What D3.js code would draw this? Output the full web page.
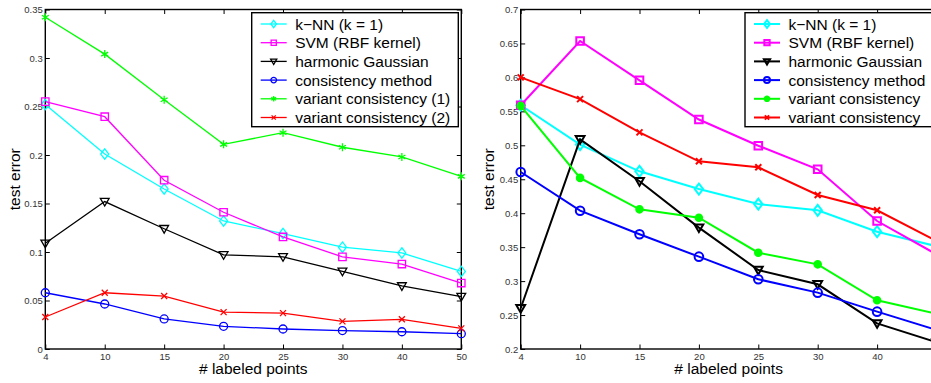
<!DOCTYPE html>
<html>
<head>
<meta charset="utf-8">
<script src="https://cdn.jsdelivr.net/npm/d3@7"></script>
<style>
  body { margin: 0; background: #fff; }
  svg { display: block; font-family: "Liberation Sans", Arial, sans-serif; }
</style>
</head>
<body>
<script>
var width = 931;
var height = 383;

// x categories (shared by both panels)
var labeledPoints = ["4", "10", "15", "20", "25", "30", "40", "50"];

// left panel
var leftTicks = [0, 0.05, 0.1, 0.15, 0.2, 0.25, 0.3, 0.35];
var leftNames = ["k\u2212NN (k = 1)", "SVM (RBF kernel)", "harmonic Gaussian",
                 "consistency method", "variant consistency (1)", "variant consistency (2)"];
var leftKnn      = [0.252, 0.201, 0.165, 0.132, 0.119, 0.105, 0.099, 0.080];
var leftSvm      = [0.255, 0.2395, 0.174, 0.141, 0.1155, 0.095, 0.0876, 0.068];
var leftHarmonic = [0.109, 0.152, 0.124, 0.097, 0.095, 0.080, 0.065, 0.054];
var leftConsist  = [0.058, 0.0464, 0.031, 0.0234, 0.0206, 0.019, 0.0178, 0.0158];
var leftVariant1 = [0.342, 0.304, 0.257, 0.211, 0.223, 0.208, 0.198, 0.178];
var leftVariant2 = [0.033, 0.058, 0.0546, 0.038, 0.037, 0.0285, 0.0306, 0.0213];

// right panel
var rightTicks = [0.2, 0.25, 0.3, 0.35, 0.4, 0.45, 0.5, 0.55, 0.6, 0.65, 0.7];
var rightNames = ["k\u2212NN (k = 1)", "SVM (RBF kernel)", "harmonic Gaussian",
                  "consistency method", "variant consistency", "variant consistency"];
var rightKnn      = [0.559, 0.501, 0.4617, 0.4356, 0.4135, 0.4043, 0.3728, 0.3514];
var rightSvm      = [0.559, 0.6536, 0.5957, 0.538, 0.4994, 0.4647, 0.3885, 0.3394];
var rightHarmonic = [0.26, 0.5088, 0.447, 0.3787, 0.3163, 0.2953, 0.2378, 0.21];
var rightConsist  = [0.4607, 0.4037, 0.369, 0.336, 0.3027, 0.283, 0.255, 0.228];
var rightVariant1 = [0.558, 0.452, 0.4057, 0.3934, 0.3418, 0.3247, 0.2717, 0.2518];
var rightVariant2 = [0.600, 0.568, 0.519, 0.4764, 0.4676, 0.4268, 0.4043, 0.359];

var colors  = ["#00ffff", "#ff00ff", "#000000", "#0000ff", "#00ff00", "#ff0000"];

var svg = d3.select("body").append("svg")
      .attr("width", width)
      .attr("height", height);

// marker shapes, centred on 0,0
function markerPath(kind, s) {
  switch (kind) {
    case "diamond": return "M0," + (-s * 1.3) + "L" + s + ",0L0," + (s * 1.3) + "L" + (-s) + ",0Z";
    case "square": return "M" + (-s) + "," + (-s) + "h" + (2 * s) + "v" + (2 * s) + "h" + (-2 * s) + "Z";
    case "tri": return "M" + (-s * 1.1) + "," + (-s * 0.8) + "L" + (s * 1.1) + "," + (-s * 0.8) + "L0," + (s * 1.1) + "Z";
    case "circle": return d3.arc()({innerRadius: 0, outerRadius: s, startAngle: 0, endAngle: 2 * Math.PI});
    case "star": return "M0," + (-s) + "V" + s + "M" + (-s * 0.87) + "," + (-s * 0.5) + "L" + (s * 0.87) + "," + (s * 0.5) +
                        "M" + (-s * 0.87) + "," + (s * 0.5) + "L" + (s * 0.87) + "," + (-s * 0.5);
    case "x": return "M" + (-s) + "," + (-s) + "L" + s + "," + s + "M" + (-s) + "," + s + "L" + s + "," + (-s);
    case "dot": return d3.arc()({innerRadius: 0, outerRadius: s, startAngle: 0, endAngle: 2 * Math.PI});
  }
}

function drawPanel(p) {
  var g = svg.append("g");

  var x = d3.scalePoint().domain(labeledPoints).range([p.left, p.right]).padding(0);
  var y = d3.scaleLinear().domain(p.domain).range([p.bottom, p.top]);

  // inward ticks on all four sides
  var tl = 4.5;
  g.append("g").attr("transform", "translate(0," + p.bottom + ")")
    .call(d3.axisBottom(x).tickSize(-tl).tickPadding(4))
    .call(function (a) {
      a.select(".domain").remove();
      // labels past the picture edge are not shown
      a.selectAll(".tick").filter(function (d) { return x(d) > width - 4; }).select("text").remove();
    });
  g.append("g").attr("transform", "translate(0," + p.top + ")")
    .call(d3.axisTop(x).tickSize(-tl).tickFormat(""))
    .call(function (a) { a.select(".domain").remove(); });
  g.append("g").attr("transform", "translate(" + p.left + ",0)")
    .call(d3.axisLeft(y).tickValues(p.ticks).tickSize(-tl).tickPadding(2.5).tickFormat(d3.format("")))
    .call(function (a) { a.select(".domain").remove(); });
  g.append("g").attr("transform", "translate(" + p.right + ",0)")
    .call(d3.axisRight(y).tickValues(p.ticks).tickSize(-tl).tickFormat(""))
    .call(function (a) { a.select(".domain").remove(); });

  g.selectAll(".tick line").attr("stroke", "#000").attr("stroke-width", 1);
  g.selectAll(".tick text").attr("fill", "#333").style("font-size", "9.5px");

  g.append("rect")
    .attr("x", p.left).attr("y", p.top)
    .attr("width", p.right - p.left).attr("height", p.bottom - p.top)
    .attr("fill", "none").attr("stroke", "#000").attr("stroke-width", 1.4);

  var line = d3.line()
    .x(function (d, i) { return x(labeledPoints[i]); })
    .y(function (d) { return y(d); });

  p.series.forEach(function (s, k) {
    g.append("path").datum(s.values)
      .attr("d", line)
      .attr("fill", "none")
      .attr("stroke", s.color)
      .attr("stroke-width", p.lw);
    g.selectAll(null).data(s.values).enter().append("path")
      .attr("transform", function (d, i) { return "translate(" + x(labeledPoints[i]) + "," + y(d) + ")"; })
      .attr("d", markerPath(s.marker, s.size))
      .attr("fill", s.marker === "dot" ? s.color : "none")
      .attr("stroke", s.color)
      .attr("stroke-width", p.lw);
  });

  // axis titles
  g.append("text")
    .attr("transform", "translate(" + p.ylabX + "," + ((p.top + p.bottom) / 2) + ") rotate(-90)")
    .attr("text-anchor", "middle")
    .style("font-size", "15.5px")
    .text("test error");
  g.append("text")
    .attr("x", (p.left + p.right) / 2).attr("y", 373.5)
    .attr("text-anchor", "middle")
    .style("font-size", "15.5px")
    .text("# labeled points");

  // legend
  var lg = g.append("g");
  lg.append("rect")
    .attr("x", p.legX).attr("y", 12.7)
    .attr("width", p.legW).attr("height", 114)
    .attr("fill", "#fff").attr("stroke", "#000").attr("stroke-width", 1.4);
  p.series.forEach(function (s, k) {
    var yy = 24 + k * 18.7;
    lg.append("line")
      .attr("x1", p.legX + 9).attr("x2", p.legX + 35)
      .attr("y1", yy).attr("y2", yy)
      .attr("stroke", s.color).attr("stroke-width", p.lw);
    lg.append("path")
      .attr("transform", "translate(" + (p.legX + 22) + "," + yy + ")")
      .attr("d", markerPath(s.marker, s.size * 0.7))
      .attr("fill", s.marker === "dot" ? s.color : "none")
      .attr("stroke", s.color).attr("stroke-width", p.lw);
    lg.append("text")
      .attr("x", p.legX + 43.5).attr("y", yy + 5.5)
      .style("font-size", "15.5px")
      .text(s.name);
  });
}

drawPanel({
  left: 45.3, right: 461.3, top: 9.5, bottom: 349,
  domain: [0, 0.35], ticks: leftTicks, lw: 1.3, ylabX: 20,
  legX: 251.7, legW: 206.6,
  series: [
    {name: leftNames[0], values: leftKnn, color: colors[0], marker: "diamond", size: 4},
    {name: leftNames[1], values: leftSvm, color: colors[1], marker: "square", size: 3.7},
    {name: leftNames[2], values: leftHarmonic, color: colors[2], marker: "tri", size: 4},
    {name: leftNames[3], values: leftConsist, color: colors[3], marker: "circle", size: 4},
    {name: leftNames[4], values: leftVariant1, color: colors[4], marker: "star", size: 4},
    {name: leftNames[5], values: leftVariant2, color: colors[5], marker: "x", size: 3}
  ]
});

drawPanel({
  left: 520.7, right: 936.5, top: 9.5, bottom: 349,
  domain: [0.2, 0.7], ticks: rightTicks, lw: 2, ylabX: 494,
  legX: 745, legW: 200,
  series: [
    {name: rightNames[0], values: rightKnn, color: colors[0], marker: "diamond", size: 4.2},
    {name: rightNames[1], values: rightSvm, color: colors[1], marker: "square", size: 3.8},
    {name: rightNames[2], values: rightHarmonic, color: colors[2], marker: "tri", size: 4},
    {name: rightNames[3], values: rightConsist, color: colors[3], marker: "circle", size: 4.3},
    {name: rightNames[4], values: rightVariant1, color: colors[4], marker: "dot", size: 3.3},
    {name: rightNames[5], values: rightVariant2, color: colors[5], marker: "x", size: 3}
  ]
});
</script>
</body>
</html>
